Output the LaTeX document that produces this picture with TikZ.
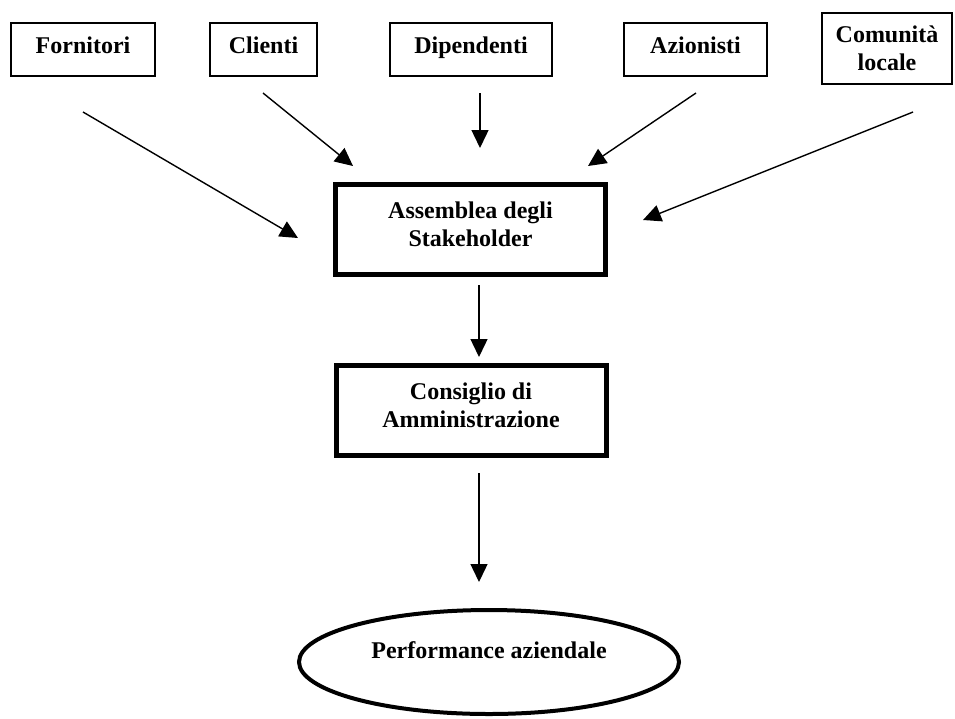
\documentclass[tikz,border=0pt]{standalone}
\usepackage{fontspec}
\setmainfont{Liberation Serif}
\usetikzlibrary{arrows.meta,shapes.geometric}
\begin{document}
\begin{tikzpicture}[x=1pt,y=-1pt,
  every node/.style={font=\bfseries\fontsize{24}{28}\selectfont, align=center,
                     inner sep=0pt, outer sep=0pt},
  topbox/.style={draw, line width=1.8pt, minimum height=53pt,
                 text height=16pt, text depth=8pt},
  mainbox/.style={draw, line width=5pt, minimum width=270pt, minimum height=90pt,
                  text depth=10pt},
  goalshape/.style={draw, ellipse, line width=4pt, minimum width=380pt, minimum height=104pt},
  link/.style={line width=1.4pt, -{Triangle[length=18pt,width=17pt]}}
]
\useasboundingbox (0,0) rectangle (955,718);

% stakeholder groups
\node[topbox, minimum width=144pt] (forn) at (83,49.5)  {Fornitori};
\node[topbox, minimum width=107pt] (cli)  at (263.5,49.5) {Clienti};
\node[topbox, minimum width=162pt] (dip)  at (471,49.5) {Dipendenti};
\node[topbox, minimum width=143pt] (azi)  at (695.5,49.5) {Azionisti};
\node[draw, line width=1.8pt, minimum width=130pt, minimum height=71pt] (com) at (887,48.5) {Comunità\\locale};

% governance chain
\node[mainbox] (asm) at (470.5,229.5) {Assemblea degli\\Stakeholder};
\node[mainbox] (cda) at (471,410.5) {Consiglio di\\Amministrazione};
\node[goalshape] (perf) at (489,662) {};
\node (perfText) at (489,650) {Performance aziendale};

% arrow end points
\coordinate (fornA) at (83,112);   \coordinate (fornB) at (298,238);
\coordinate (cliA)  at (263,93);   \coordinate (cliB)  at (353,166);
\coordinate (dipA)  at (480,93);   \coordinate (dipB)  at (480,148);
\coordinate (aziA)  at (696,93);   \coordinate (aziB)  at (588,166);
\coordinate (comA)  at (913,112);  \coordinate (comB)  at (643,220);
\coordinate (asmA)  at (479,285);  \coordinate (asmB)  at (479,357);
\coordinate (cdaA)  at (479,473);  \coordinate (cdaB)  at (479,582);

\draw[link] (fornA) -- (fornB);
\draw[link] (cliA) -- (cliB);
\draw[link] (dipA) -- (dipB);
\draw[link] (aziA) -- (aziB);
\draw[link] (comA) -- (comB);
\draw[link] (asmA) -- (asmB);
\draw[link] (cdaA) -- (cdaB);
\end{tikzpicture}
\end{document}
